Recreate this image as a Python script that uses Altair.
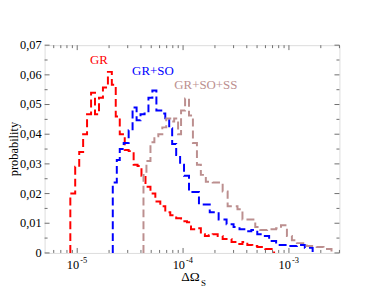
import altair as alt
import pandas as pd

# ---- data (bin edges in log10(ΔΩ_S), probabilities) ----
red_edges = [-5.065, -5.019, -4.981, -4.944, -4.907, -4.869, -4.832, -4.794, -4.757, -4.710,
             -4.673, -4.636, -4.598, -4.551, -4.514, -4.467, -4.430, -4.393, -4.355, -4.308,
             -4.262, -4.215, -4.168, -4.121, -4.065, -4.019, -3.963, -3.925, -3.869, -3.832,
             -3.794, -3.757, -3.720, -3.673, -3.626, -3.579, -3.542, -3.486, -3.439, -3.393,
             -3.346, -3.299, -3.224, -3.140]
red_vals = [0.020, 0.029, 0.034, 0.040, 0.0467, 0.054, 0.0467, 0.0523, 0.0557, 0.061,
            0.0567, 0.046, 0.040, 0.0347, 0.0343, 0.0297, 0.0293, 0.026, 0.0223, 0.020,
            0.0173, 0.0157, 0.0137, 0.0127, 0.0117, 0.0107, 0.0103, 0.008, 0.0083, 0.0063,
            0.0057, 0.006, 0.0063, 0.0057, 0.0047, 0.0047, 0.0037, 0.003, 0.0037, 0.0027,
            0.0023, 0.002, 0.0013]

blue_edges = [-4.664, -4.626, -4.598, -4.561, -4.514, -4.477, -4.439, -4.402, -4.364, -4.327,
              -4.290, -4.252, -4.206, -4.168, -4.131, -4.103, -4.065, -4.028, -3.991, -3.944,
              -3.850, -3.748, -3.664, -3.589, -3.523, -3.467, -3.411, -3.355, -3.299, -3.243,
              -3.187, -3.121, -3.019, -2.925, -2.850, -2.776]
blue_vals = [0.0237, 0.0313, 0.035, 0.037, 0.0413, 0.049, 0.0447, 0.0467, 0.047, 0.0523,
             0.0547, 0.048, 0.047, 0.0447, 0.042, 0.0367, 0.033, 0.0297, 0.026, 0.0205,
             0.0163, 0.0137, 0.0113, 0.0097, 0.0087, 0.008, 0.0073, 0.0077, 0.0063, 0.0057,
             0.004, 0.0027, 0.0023, 0.0027, 0.0017]

brown_edges = [-4.374, -4.346, -4.308, -4.271, -4.234, -4.196, -4.159, -4.121, -4.084, -4.047,
               -4.019, -3.981, -3.944, -3.907, -3.869, -3.832, -3.785, -3.720, -3.626, -3.579,
               -3.486, -3.439, -3.318, -3.271, -3.206, -3.121, -3.075, -3.019, -2.972, -2.925,
               -2.832, -2.738, -2.673, -2.598]
brown_vals = [0.0263, 0.031, 0.0373, 0.0393, 0.040, 0.0423, 0.0453, 0.0443, 0.0453, 0.040,
              0.048, 0.052, 0.0463, 0.037, 0.0297, 0.0263, 0.024, 0.0237, 0.0207, 0.0157,
              0.0147, 0.0113, 0.0087, 0.0077, 0.008, 0.0083, 0.0093, 0.0057, 0.0043, 0.0033,
              0.0023, 0.002, 0.0013]

series_names = ["GR", "GR+SO", "GR+SO+SS"]
series_colors = ["#ff0000", "#0000ff", "#bc8f8f"]
label_x = [10 ** -4.794, 10 ** -4.285, 10 ** -3.785]
label_y = [0.0637, 0.0600, 0.0553]

y_major = [0, 0.01, 0.02, 0.03, 0.04, 0.05, 0.06, 0.07]
y_labels = ["0", "0,01", "0,02", "0,03", "0,04", "0,05", "0,06", "0,07"]
y_minor = [0.005, 0.015, 0.025, 0.035, 0.045, 0.055, 0.065]
x_major = [1e-5, 1e-4, 1e-3]
x_minor = [6e-6, 7e-6, 8e-6, 9e-6,
           2e-5, 3e-5, 4e-5, 5e-5, 6e-5, 7e-5, 8e-5, 9e-5,
           2e-4, 3e-4, 4e-4, 5e-4, 6e-4, 7e-4, 8e-4, 9e-4,
           2e-3, 3e-3]
x_tick_base = ["10", "10", "10"]
x_tick_exp = ["-5", "-4", "-3"]

X_DOMAIN = [10 ** -5.308, 10 ** -2.523]
Y_DOMAIN = [0, 0.07]
W, H = 298, 210
FRAME = "#6e6e6e"
SERIF = "Liberation Serif"

# ---- build step tables ----
rows = []
for name, edges, vals in zip(series_names, [red_edges, blue_edges, brown_edges],
                             [red_vals, blue_vals, brown_vals]):
    i = 0
    rows.append({"s": name, "x": 10 ** edges[0], "p": 0.0, "i": i}); i += 1
    for e, v in zip(edges[:-1], vals):
        rows.append({"s": name, "x": 10 ** e, "p": v, "i": i}); i += 1
    rows.append({"s": name, "x": 10 ** edges[-1], "p": 0.0, "i": i})
df = pd.DataFrame(rows)

xs = alt.Scale(type="log", domain=X_DOMAIN, nice=False)
ys = alt.Scale(domain=Y_DOMAIN, nice=False, zero=False)
cs = alt.Scale(domain=series_names, range=series_colors)

lines = alt.Chart(df).mark_line(
    interpolate="step-after", strokeDash=[8, 4], strokeWidth=2
).encode(
    x=alt.X("x:Q", scale=xs, axis=None),
    y=alt.Y("p:Q", scale=ys, axis=None),
    color=alt.Color("s:N", scale=cs, legend=None),
    order="i:Q",
)

labels_df = pd.DataFrame({"s": series_names, "x": label_x, "p": label_y})
series_labels = alt.Chart(labels_df).mark_text(
    font=SERIF, fontSize=13, fontWeight="normal", align="center", baseline="alphabetic"
).encode(
    x=alt.X("x:Q", scale=xs, axis=None), y=alt.Y("p:Q", scale=ys, axis=None),
    text="s:N", color=alt.Color("s:N", scale=cs, legend=None),
)

ymaj = pd.DataFrame({"v": y_major, "t": y_labels})
ymin = pd.DataFrame({"v": y_minor})
xmaj = pd.DataFrame({"v": x_major})
xmin = pd.DataFrame({"v": x_minor})

def yticks(d, L):
    left = alt.Chart(d).mark_rule(color=FRAME, strokeWidth=1).encode(
        y=alt.Y("v:Q", scale=ys, axis=None), x=alt.value(0), x2=alt.value(L))
    right = alt.Chart(d).mark_rule(color=FRAME, strokeWidth=1).encode(
        y=alt.Y("v:Q", scale=ys, axis=None), x=alt.value(W - L), x2=alt.value(W))
    return left + right

def xticks(d, L):
    bottom = alt.Chart(d).mark_rule(color=FRAME, strokeWidth=1).encode(
        x=alt.X("v:Q", scale=xs, axis=None), y=alt.value(H - L), y2=alt.value(H))
    top = alt.Chart(d).mark_rule(color=FRAME, strokeWidth=1).encode(
        x=alt.X("v:Q", scale=xs, axis=None), y=alt.value(0), y2=alt.value(L))
    return bottom + top

ylab = alt.Chart(ymaj).mark_text(
    font=SERIF, fontSize=12.5, fontWeight="normal", align="right", baseline="middle",
    color="black"
).encode(y=alt.Y("v:Q", scale=ys, axis=None), x=alt.value(-3), text="t:N")

xlab_df = pd.DataFrame({"v": x_major, "b": x_tick_base, "e": x_tick_exp})
xlab_base = alt.Chart(xlab_df).mark_text(
    font=SERIF, fontSize=12.5, fontWeight="normal", align="right", baseline="alphabetic",
    dx=2, color="black"
).encode(x=alt.X("v:Q", scale=xs, axis=None), y=alt.value(H + 16), text="b:N")
xlab_exp = alt.Chart(xlab_df).mark_text(
    font=SERIF, fontSize=8.5, fontWeight="normal", align="left", baseline="alphabetic",
    dx=3, color="black"
).encode(x=alt.X("v:Q", scale=xs, axis=None), y=alt.value(H + 10), text="e:N")

xtitle = alt.Chart(pd.DataFrame({"t": ["ΔΩ"]})).mark_text(
    font=SERIF, fontSize=13.5, fontWeight="normal", align="left", baseline="alphabetic",
    color="black"
).encode(x=alt.value(138), y=alt.value(238), text="t:N")
xtitle_sub = alt.Chart(pd.DataFrame({"t": ["S"]})).mark_text(
    font=SERIF, fontSize=9, fontWeight="normal", align="left", baseline="alphabetic",
    color="black"
).encode(x=alt.value(158), y=alt.value(243), text="t:N")
ytitle = alt.Chart(pd.DataFrame({"t": ["probability"]})).mark_text(
    font=SERIF, fontSize=12.5, fontWeight="normal", align="center", baseline="middle",
    angle=270, color="black"
).encode(x=alt.value(-31), y=alt.value(105), text="t:N")

chart = alt.layer(
    lines, series_labels,
    yticks(ymaj, 5), yticks(ymin, 3), xticks(xmaj, 5), xticks(xmin, 3),
    ylab, xlab_base, xlab_exp, xtitle, xtitle_sub, ytitle,
).properties(
    width=W, height=H, autosize="none",
    padding={"left": 37, "top": 36, "right": 40, "bottom": 45},
).configure_view(stroke=FRAME, strokeWidth=2).configure(background="white")

chart.save("out.html", embed_options={"renderer": "svg", "actions": False})
